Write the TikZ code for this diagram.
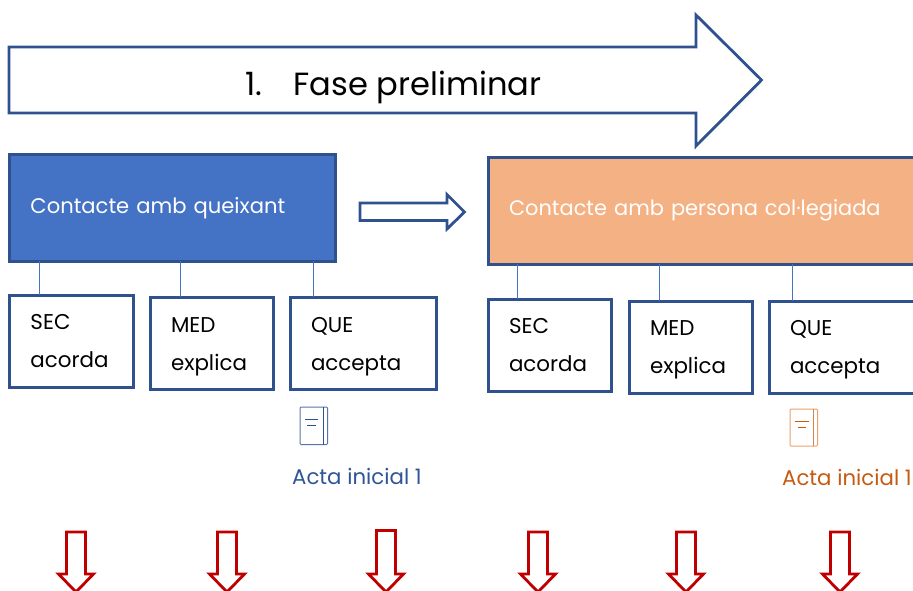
\documentclass[tikz,border=0pt]{standalone}
\usepackage{fontspec}
\setmainfont{Poppins}
\definecolor{bdr}{HTML}{2F528F}
\definecolor{bluef}{HTML}{4472C4}
\definecolor{orf}{HTML}{F4B183}
\definecolor{actab}{HTML}{2F5597}
\definecolor{actao}{HTML}{C55A11}
\definecolor{redar}{HTML}{C00000}
\newcommand{\dnstrut}[1]{\rule{0pt}{#1pt}}
\tikzset{
  x=1pt,y=-1pt,
  bigbox/.style={draw=bdr,line width=3pt,anchor=north west,inner xsep=21pt,inner ysep=0pt,outer sep=0pt,text=white,font=\fontsize{21.1}{25}\selectfont,align=left},
  smallbox/.style={draw=bdr,line width=3pt,fill=white,anchor=north west,inner xsep=21pt,inner ysep=0pt,outer sep=0pt,font=\fontsize{21.4}{38}\selectfont,align=left,text=black},
  link/.style={draw=bluef,line width=0.9pt},
  blockarrow/.style={draw=bdr,line width=2.8pt,fill=white,line join=miter},
  redarrow/.style={draw=redar,line width=2.8pt,fill=white,line join=miter},
  actalabel/.style={anchor=base west,inner sep=0pt,font=\fontsize{21.3}{25}\selectfont},
  booklabel/.style={line width=1pt,rounded corners=1pt}
}
\begin{document}
\begin{tikzpicture}
\useasboundingbox (0,0) rectangle (913,590);
% top arrow
\draw[blockarrow] (9,47) -- (696,47) -- (696,15) -- (761.5,80) -- (696,146) -- (696,113) -- (9,113) -- cycle;
\node[anchor=base west,inner sep=0pt,font=\fontsize{32.1}{38}\selectfont] (t1) at (245,95) {1.};
\node[anchor=base west,inner sep=0pt,font=\fontsize{32.1}{38}\selectfont] (t2) at (293.5,95) {Fase preliminar};
% large boxes
\node[bigbox,fill=bluef,minimum width=325.5pt,minimum height=106.5pt,text width=283.5pt] (q) at (9.5,154.5) {\dnstrut{16}Contacte amb queixant};
\node[bigbox,fill=orf,minimum width=430pt,minimum height=106.5pt,text width=388pt] (p) at (488,157.5) {\dnstrut{16}\fontsize{20.95}{25}\selectfont Contacte amb persona col·legiada};
% small arrow
\draw[blockarrow] (360,203) -- (447,203) -- (447,194.5) -- (464.5,212) -- (447,229) -- (447,220.5) -- (360,220.5) -- cycle;
% small boxes
\node[smallbox,minimum width=123.5pt,minimum height=92.5pt,text width=81.5pt] (a1) at (9.5,295) {SEC\\acorda};
\node[smallbox,minimum width=123.5pt,minimum height=92.5pt,text width=81.5pt] (a2) at (150,297) {\dnstrut{22}MED\\explica};
\node[smallbox,minimum width=146.5pt,minimum height=92.5pt,text width=104.5pt] (a3) at (290,297) {\dnstrut{22}QUE\\accepta};
\node[smallbox,minimum width=123.5pt,minimum height=92.5pt,text width=81.5pt] (b1) at (488,299) {SEC\\acorda};
\node[smallbox,minimum width=123.5pt,minimum height=92.5pt,text width=81.5pt] (b2) at (629,301) {\dnstrut{20}MED\\explica};
\node[smallbox,minimum width=147pt,minimum height=92.5pt,text width=105pt] (b3) at (769,301) {\dnstrut{20}QUE\\accepta};
% links
\draw[link] (39,0 |- q.south) -- (39,0 |- a1.north);
\draw[link] (180.5,0 |- q.south) -- (180.5,0 |- a2.north);
\draw[link] (313.5,0 |- q.south) -- (313.5,0 |- a3.north);
\draw[link] (517.5,0 |- p.south) -- (517.5,0 |- b1.north);
\draw[link] (659.5,0 |- p.south) -- (659.5,0 |- b2.north);
\draw[link] (792.5,0 |- p.south) -- (792.5,0 |- b3.north);
% book icons
\draw[booklabel,draw=bdr!80] (300,407) rectangle (327.5,444.5);
\draw[bdr,line width=1pt] (323.5,407) -- (323.5,444.5);
\draw[bdr,line width=0.8pt] (305,419) -- (318,419) (307,425) -- (316,425);
\draw[booklabel,draw=orf!80!actao] (790,409) rectangle (817.5,446);
\draw[actao!75,line width=1pt] (813.5,409) -- (813.5,446);
\draw[actao,line width=0.8pt] (795,421.5) -- (809,421.5) (798,427.5) -- (806,427.5);
% labels
\node[actalabel,text=actab] (l1) at (292,484) {Acta inicial 1};
\node[actalabel,text=actao] (l2) at (782,485) {Acta inicial 1};
% red arrows
\foreach \cx/\ty in {76/532,227/532,386/530.5,538/532,686/532,840/532}{
  \draw[redarrow] (\cx-9.5,\ty) -- (\cx+9.5,\ty) -- (\cx+9.5,574) -- (\cx+17.5,574) -- (\cx,592) -- (\cx-17.5,574) -- (\cx-9.5,574) -- cycle;
}
\end{tikzpicture}
\end{document}
